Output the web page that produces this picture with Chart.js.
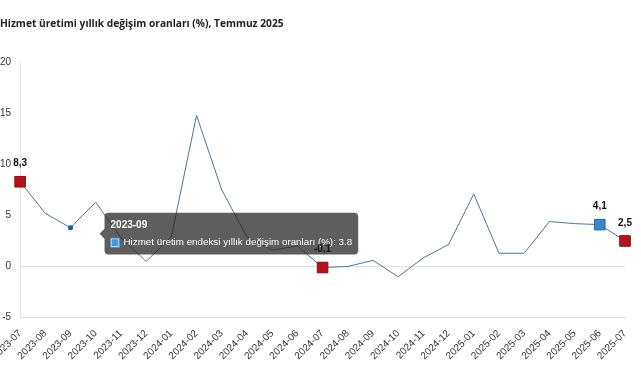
<!DOCTYPE html>
<html><head><meta charset="utf-8">
<script src="https://cdn.jsdelivr.net/npm/chart.js@4/dist/chart.umd.min.js"></script>
<style>
html,body{margin:0;padding:0;background:#fff;}
#wrap{position:relative;width:641px;height:380px;}
</style></head>
<body><div id="wrap"><canvas id="c" width="641" height="380"></canvas></div>
<script>
const categories = ["2023-07","2023-08","2023-09","2023-10","2023-11","2023-12","2024-01","2024-02","2024-03","2024-04","2024-05","2024-06","2024-07","2024-08","2024-09","2024-10","2024-11","2024-12","2025-01","2025-02","2025-03","2025-04","2025-05","2025-06","2025-07"];
const values = [8.3,5.2,3.8,6.3,2.8,0.5,2.9,14.8,7.5,2.9,1.6,2.0,-0.1,0.0,0.6,-1.0,0.85,2.15,7.1,1.3,1.3,4.4,4.2,4.1,2.5];
const highlightRed = [0,12,24];
const highlightBlue = [23];
const labelIdx = [0,12,23,24];
const yTicks = [-5,0,5,10,15,20];
const seriesName = "Hizmet üretim endeksi yıllık değişim oranları (%)";
const titleText = "Hizmet üretimi yıllık değişim oranları (%), Temmuz 2025";

const FONT = "'Liberation Sans', Arial, sans-serif";
const TFONT = "'Open Sans', 'Noto Sans', sans-serif";

function ptColor(i){ if(highlightRed.includes(i)) return '#b3141c'; if(highlightBlue.includes(i)) return '#3a86c6'; return '#4f7593'; }
function ptRadius(i){ return (highlightRed.includes(i)||highlightBlue.includes(i)) ? 7.5 : 0; }

Chart.Tooltip.positioners.fixedOffset = function(elements){
  if(!elements.length) return false;
  const el = elements[0].element;
  return {x: el.x + 27, y: el.y + 6};
};

const labelPlugin = {
  id:'labels',
  afterDraw(chart){
    const ctx = chart.ctx;
    const meta = chart.getDatasetMeta(0);
    ctx.save();
    ctx.font = "bold 10px " + FONT;
    ctx.fillStyle = '#111';
    ctx.textAlign = 'center';
    ctx.textBaseline = 'middle';
    labelIdx.forEach(i=>{
      const p = meta.data[i];
      ctx.fillText(values[i].toFixed(1).replace('.',','), p.x, p.y - 18);
    });
    ctx.restore();
  }
};

function noLeftPad(s){
  s.paddingLeft = 0;
  s.getPadding = () => ({left:0, top:s.paddingTop||0, right:s.paddingRight||0, bottom:s.paddingBottom||0});
}

const chart = new Chart(document.getElementById('c'), {
  type:'line',
  data:{ labels:categories, datasets:[{
    label:seriesName,
    data:values,
    clip:false,
    borderColor:'#4f7593',
    borderWidth:1,
    tension:0,
    pointStyle:'rect',
    pointRadius:values.map((v,i)=>ptRadius(i)),
    pointBackgroundColor:values.map((v,i)=>ptColor(i)),
    pointBorderColor:values.map((v,i)=>highlightRed.includes(i)?'#8a0f14':(highlightBlue.includes(i)?'#2a6aa3':'#4f7593')),
    pointBorderWidth:1,
    pointHoverRadius:values.map((v,i)=>ptRadius(i)||2.5),
    pointHoverBackgroundColor:values.map((v,i)=>(ptRadius(i)?ptColor(i):'#1f5d96')),
    pointHoverBorderColor:values.map((v,i)=>(ptRadius(i)?ptColor(i):'#1f5d96')),
    pointHoverBorderWidth:1
  }]},
  options:{
    responsive:false,
    animation:false,
    layout:{autoPadding:false,padding:{left:0,right:16,top:0,bottom:16}},
    plugins:{
      legend:{display:false},
      title:{display:true,text:titleText,align:'start',color:'#222',font:{family:TFONT,size:10.2,weight:'bold'},padding:{top:18,bottom:32}},
      tooltip:{
        enabled:true,
        position:'fixedOffset',
        xAlign:'left', yAlign:'center',
        backgroundColor:'rgba(40,40,40,0.75)',
        titleColor:'#fff', bodyColor:'#fff',
        titleFont:{family:FONT,size:10,weight:'bold'},
        bodyFont:{family:FONT,size:9.8},
        padding:6, caretSize:5, caretPadding:2, cornerRadius:4,
        boxWidth:9, boxHeight:9, boxPadding:2,
        callbacks:{
          label:(c)=>seriesName+': '+c.parsed.y,
          labelColor:()=>({borderColor:'#4a9ad8',backgroundColor:'#4a9ad8',borderWidth:0})
        }
      }
    },
    scales:{
      x:{
        offset:false,
        grid:{display:false},
        border:{display:true,color:'#e3e3e3'},
        ticks:{color:'#333',font:{family:FONT,size:10},maxRotation:45,minRotation:45,autoSkip:false,padding:2},
        afterFit:noLeftPad
      },
      y:{
        min:-5,max:20,
        afterBuildTicks:(s)=>{ s.ticks = yTicks.map(v=>({value:v})); },
        afterFit:(s)=>{ s.width = s.width - s.options.ticks.padding; },
        grid:{color:(c)=>c.tick && c.tick.value===0 ? '#e3e3e3' : 'rgba(0,0,0,0)', drawTicks:false},
        border:{display:true,color:'#e3e3e3'},
        ticks:{color:'#333',font:{family:FONT,size:10},padding:9}
      }
    }
  },
  plugins:[labelPlugin]
});
chart.setActiveElements([{datasetIndex:0,index:2}]);
chart.tooltip.setActiveElements([{datasetIndex:0,index:2}],{x:0,y:0});
chart.update('none');
</script></body></html>
